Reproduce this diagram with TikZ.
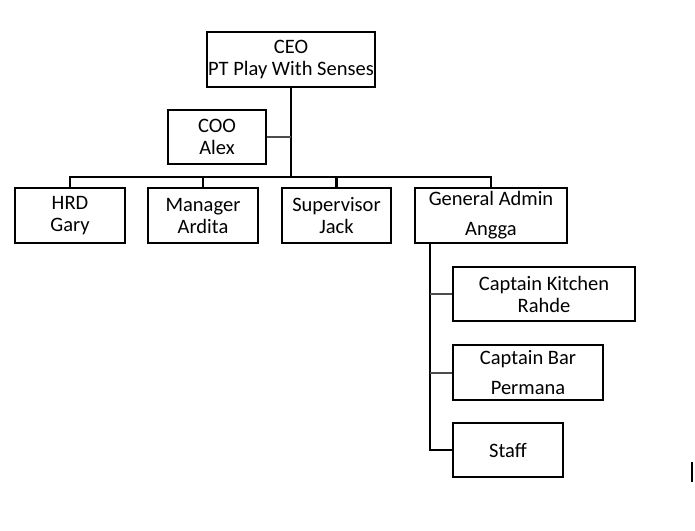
\documentclass[tikz,border=0pt]{standalone}
\usepackage{fontspec}
\setmainfont{Carlito}
\begin{document}
\begin{tikzpicture}[
    x = 1pt, y = -1pt,
    jabatan/.style = {
        draw,
        line width   = 2.2pt,
        align        = center,
        inner sep    = 0pt,
        font         = \fontsize{20.5}{22}\selectfont
    },
    garis/.style = {
        line width = 2.2pt
    },
    cabang/.style = {
        line width = 2pt,
        color      = black!70
    }
]

\useasboundingbox (0,0) rectangle (695,530);

% ================================================================
%  KOTAK JABATAN (pusat kotak, ukuran dalam px)
% ================================================================

\node[jabatan, minimum width=168, minimum height=55] (ceo) at (291, 59.5)
    {CEO\\PT Play With Senses};

\node[jabatan, minimum width=98, minimum height=54] (coo) at (217, 137)
    {COO\\Alex};

\node[jabatan, minimum width=110, minimum height=55] (hrd) at (70, 215.5)
    {HRD\\Gary};
\node[jabatan, minimum width=110, minimum height=55] (mgr) at (203, 215.5)
    {Manager\\Ardita};
\node[jabatan, minimum width=109, minimum height=55] (spv) at (336.5, 215.5)
    {Supervisor\\Jack};
\node[jabatan, minimum width=152, minimum height=55] (ga) at (491, 215.5)
    {General Admin\\[8pt]Angga};

\node[jabatan, minimum width=182, minimum height=54] (kitchen) at (544, 294)
    {Captain Kitchen\\Rahde};
\node[jabatan, minimum width=150, minimum height=55] (bar) at (528, 372.5)
    {Captain Bar\\[8pt]Permana};
\node[jabatan, minimum width=110, minimum height=54] (staff) at (508, 450)
    {Staff};

% ================================================================
%  GARIS PENGHUBUNG
%  bus horizontal di y = 177, tulang General Admin di x = 430
% ================================================================

\coordinate (bus)    at (0, 177);
\coordinate (tulang) at (430, 243);

\draw[garis] (ceo.south) -- (ceo.south |- bus);
\draw[cabang] (coo.east) -- (coo.east -| ceo.south);

\draw[garis] (hrd.north) -- (hrd.north |- bus) -- (ga.north |- bus) -- (ga.north);
\draw[garis] (mgr.north) -- (mgr.north |- bus);
\draw[garis] (spv.north) -- (spv.north |- bus);

\draw[garis] (tulang) -- (tulang |- staff.west) -- (staff.west);
\draw[cabang] (tulang |- kitchen.west) -- (kitchen.west);
\draw[cabang] (tulang |- bar.west) -- (bar.west);

% garis kecil di tepi kanan
\draw[line width=1.8pt] (692, 462) -- (692, 482);

\end{tikzpicture}
\end{document}
